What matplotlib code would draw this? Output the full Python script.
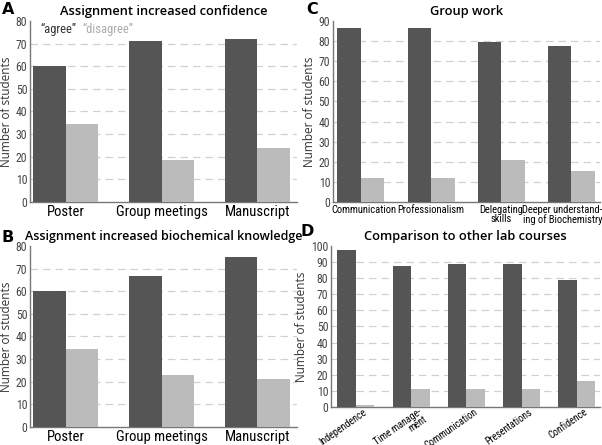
import numpy as np
import matplotlib
matplotlib.use("Agg")
import matplotlib.pyplot as plt
from matplotlib import font_manager
from matplotlib.transforms import ScaledTranslation

# colours of the two answer groups
dark = "#555555"
light = "#bbbbbb"

# panel A / B
ab_cats = ["Poster", "Group meetings", "Manuscript"]
a_agree = [60, 71, 72]
a_disagree = [34.5, 18.5, 24]
b_agree = [60, 66.5, 75]
b_disagree = [34.5, 23, 21]

# panel C
c_cats = ["Communication", "Professionalism", "Delegating\nskills",
          "Deeper understand-\ning of Biochemistry"]
c_agree = [86.5, 86.5, 79.5, 77.5]
c_disagree = [12, 12, 21, 15.5]

# panel D
d_cats = ["Independence", "Time manage-\nment", "Communication",
          "Presentations", "Confidence"]
d_agree = [97.5, 87.5, 89, 89, 79]
d_disagree = [1, 11, 11, 11, 16]

# pick a narrow face if one is there
have = {f.name for f in font_manager.fontManager.ttflist}
narrow_name = "Liberation Sans"
for n in ["Liberation Sans Narrow", "Roboto Condensed", "Open Sans Condensed"]:
    if n in have:
        narrow_name = n
        break
narrow = [narrow_name, "DejaVu Sans"]
scale = 1.0 if "Narrow" in narrow_name or "Condensed" in narrow_name else 0.88

plt.rcParams["font.family"] = ["Open Sans", "DejaVu Sans"]

fig = plt.figure(figsize=(6.02, 4.45), dpi=100)


def shift(lab, dx, dy=0):
    # move a tick label by some pixels
    lab.set_transform(lab.get_transform() +
                      ScaledTranslation(dx / 100, dy / 100, fig.dpi_scale_trans))


def panel(rect, cats, agree, disagree, ymax, step, xlim, title, letter,
          lx, ly, xfs=9.5, rot=0, tfs=9.3):
    ax = fig.add_axes(rect)
    x = np.arange(len(cats))
    w = 0.335
    ax.bar(x - w / 2, agree, w, color=dark, zorder=3)
    ax.bar(x + w / 2, disagree, w, color=light, zorder=3)
    ticks = np.arange(0, ymax + 1, step)
    ax.set_ylim(0, ymax)
    ax.set_xlim(*xlim)
    for t in ticks[1:-1]:
        ax.axhline(t, color="#d0d0d0", lw=0.9, ls=(0, (6, 4)), zorder=1)
    ax.set_yticks(ticks)
    ax.set_yticklabels([str(t) for t in ticks], family=narrow,
                       fontsize=8.5 * scale, color="#444444")
    ax.set_xticks(x)
    if rot:
        ax.set_xticklabels(cats, family=narrow, fontsize=xfs * scale,
                           rotation=rot, ha="right", rotation_mode="anchor",
                           linespacing=0.85)
    else:
        ax.set_xticklabels(cats, family=narrow, fontsize=xfs * scale,
                           linespacing=0.9)
    ax.tick_params(length=0, pad=2)
    for s in ["top", "right"]:
        ax.spines[s].set_visible(False)
    for s in ["left", "bottom"]:
        ax.spines[s].set_color("#777777")
        ax.spines[s].set_linewidth(1.0)
    ax.set_ylabel("Number of students", fontsize=8.5, color="#333333",
                  labelpad=2)
    ax.set_title(title, fontsize=tfs, fontweight="semibold", pad=4)
    fig.text(lx, ly, letter, fontsize=11.5, fontweight="bold",
             family=["DejaVu Sans"], va="top")
    return ax


axA = panel([0.050, 0.546, 0.443, 0.407], ab_cats, a_agree, a_disagree,
            80, 10, (-0.37, 2.41), "Assignment increased confidence",
            "A", 0.003, 0.995, xfs=10.5)
axA.text(0.037, 0.99, "\u201cagree\u201d", transform=axA.transAxes,
         color="#333333", fontsize=9 * scale, va="top", family=narrow)
axA.text(0.195, 0.99, "\u201cdisagree\u201d", transform=axA.transAxes,
         color="#aaaaaa", fontsize=9 * scale, va="top", family=narrow)

panel([0.050, 0.0405, 0.443, 0.407], ab_cats, b_agree, b_disagree,
      80, 10, (-0.37, 2.41), "Assignment increased biochemical knowledge",
      "B", 0.003, 0.483, xfs=10.5, tfs=9.0)

axC = panel([0.553, 0.546, 0.444, 0.407], c_cats, c_agree, c_disagree,
            90, 10, (-0.40, 3.41), "Group work", "C", 0.508, 0.995, xfs=7.6)
shift(axC.get_xticklabels()[0], 3)
shift(axC.get_xticklabels()[-1], -9)

axD = panel([0.550, 0.0854, 0.447, 0.362], d_cats, d_agree, d_disagree,
            100, 10, (-0.45, 4.42), "Comparison to other lab courses", "D",
            0.500, 0.497, xfs=7.2, rot=35)
for lab in axD.get_xticklabels():
    shift(lab, 7, 3)

fig.savefig("out.png", dpi=100)
